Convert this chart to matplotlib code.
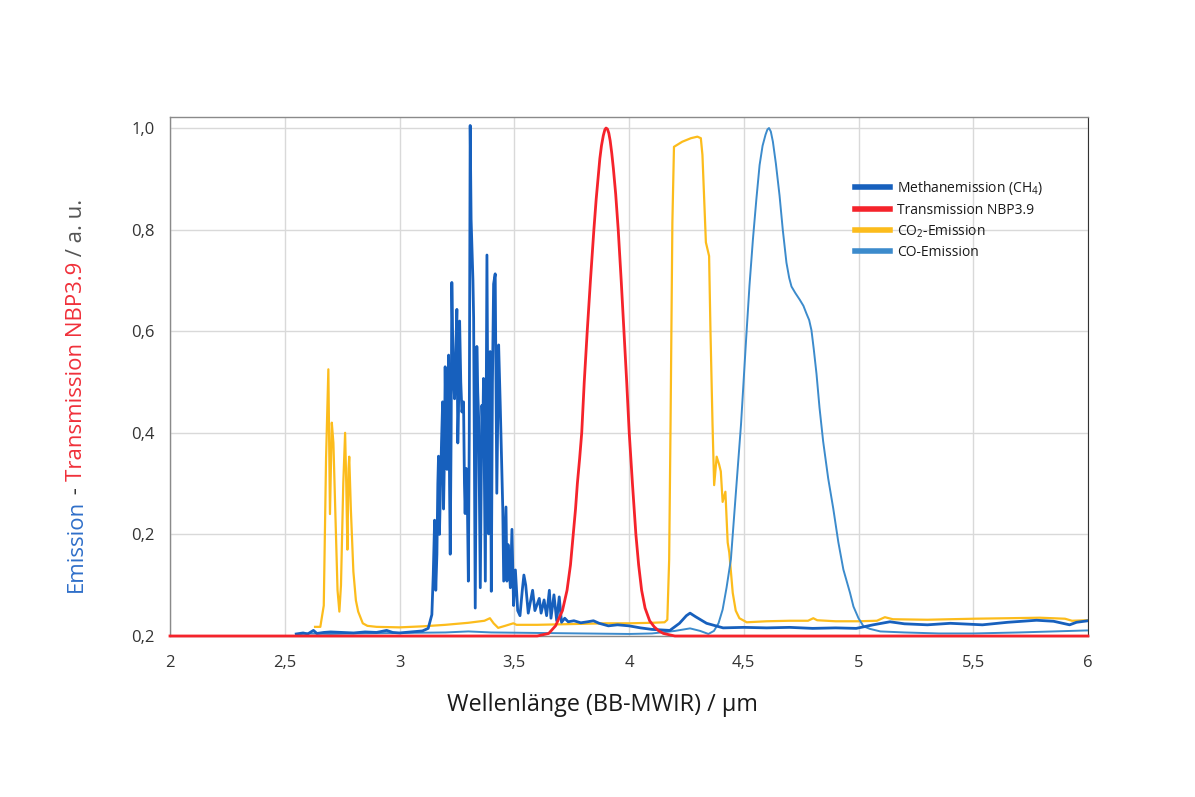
import matplotlib
matplotlib.use("Agg")
import matplotlib.pyplot as plt
from matplotlib.ticker import FixedLocator, FixedFormatter

plt.rcParams['font.family'] = ['Open Sans', 'DejaVu Sans']
plt.rcParams['mathtext.fontset'] = 'custom'
plt.rcParams['mathtext.rm'] = 'Open Sans'
plt.rcParams['mathtext.default'] = 'regular'

# --- data ---
ch4_x = [2.55, 2.58, 2.60, 2.625, 2.64, 2.67, 2.70, 2.75, 2.80, 2.85, 2.90, 2.944, 2.97,
         3.00, 3.05, 3.10, 3.125, 3.141, 3.147, 3.153, 3.158, 3.163, 3.167, 3.170, 3.174,
         3.178, 3.183, 3.188, 3.192, 3.196, 3.199, 3.203, 3.207, 3.211, 3.214, 3.218,
         3.221, 3.225, 3.228, 3.234, 3.240, 3.245, 3.250, 3.254, 3.257, 3.262, 3.267,
         3.272, 3.279, 3.283, 3.286, 3.290, 3.294, 3.300, 3.304, 3.308, 3.312, 3.316,
         3.320, 3.323, 3.330, 3.337, 3.341, 3.345, 3.352, 3.359, 3.363, 3.366, 3.374,
         3.381, 3.388, 3.395, 3.400, 3.405, 3.410, 3.417, 3.424, 3.432, 3.436, 3.439,
         3.446, 3.450, 3.454, 3.460, 3.464, 3.468, 3.473, 3.478, 3.483, 3.490, 3.497,
         3.505, 3.515, 3.525, 3.535, 3.542, 3.550, 3.561, 3.580, 3.590, 3.609, 3.617,
         3.630, 3.641, 3.653, 3.660, 3.673, 3.685, 3.696, 3.706, 3.720, 3.735, 3.760,
         3.790, 3.820, 3.845, 3.870, 3.910, 3.950, 4.000, 4.050, 4.100, 4.178, 4.220,
         4.250, 4.266, 4.290, 4.338, 4.410, 4.500, 4.600, 4.700, 4.800, 4.900, 4.990,
         5.064, 5.137, 5.200, 5.300, 5.400, 5.540, 5.650, 5.776, 5.850, 5.920, 5.950,
         6.000]
ch4_y = [0.004, 0.006, 0.004, 0.011, 0.005, 0.007, 0.008, 0.007, 0.006, 0.008, 0.007, 0.011, 0.007,
         0.006, 0.008, 0.010, 0.015, 0.042, 0.120, 0.228, 0.090, 0.161, 0.300, 0.354, 0.200,
         0.281, 0.380, 0.461, 0.250, 0.361, 0.530, 0.380, 0.328, 0.450, 0.553, 0.300,
         0.161, 0.400, 0.696, 0.520, 0.467, 0.560, 0.643, 0.380, 0.441, 0.620, 0.500,
         0.441, 0.461, 0.300, 0.241, 0.330, 0.328, 0.108, 0.400, 1.005, 0.820, 0.759,
         0.700, 0.626, 0.055, 0.570, 0.480, 0.427, 0.095, 0.454, 0.400, 0.507, 0.108,
         0.750, 0.201, 0.560, 0.088, 0.500, 0.693, 0.713, 0.281, 0.573, 0.500, 0.454,
         0.328, 0.250, 0.108, 0.200, 0.254, 0.108, 0.180, 0.135, 0.095, 0.210, 0.060,
         0.130, 0.050, 0.040, 0.090, 0.120, 0.100, 0.045, 0.090, 0.050, 0.074, 0.045,
         0.071, 0.040, 0.090, 0.035, 0.081, 0.030, 0.077, 0.027, 0.035, 0.028, 0.030,
         0.026, 0.028, 0.030, 0.025, 0.020, 0.022, 0.020, 0.016, 0.013, 0.011, 0.025,
         0.040, 0.045, 0.038, 0.025, 0.016, 0.017, 0.016, 0.017, 0.015, 0.016, 0.015,
         0.022, 0.028, 0.024, 0.022, 0.025, 0.022, 0.027, 0.031, 0.029, 0.022, 0.027,
         0.030]

nbp_x = [2.00, 3.60, 3.65, 3.68, 3.71, 3.73, 3.745, 3.757, 3.767, 3.775, 3.785, 3.794,
         3.805, 3.818, 3.832, 3.847, 3.857, 3.865, 3.873, 3.880, 3.888, 3.895, 3.900,
         3.906, 3.912, 3.918, 3.925, 3.932, 3.942, 3.953, 3.966, 3.978, 3.990, 4.001,
         4.015, 4.030, 4.042, 4.055, 4.070, 4.090, 4.110, 4.130, 4.150, 4.180, 4.200, 6.00]
nbp_y = [0.0, 0.0, 0.005, 0.02, 0.05, 0.09, 0.14, 0.20, 0.25, 0.30, 0.35, 0.40,
         0.50, 0.60, 0.70, 0.80, 0.86, 0.90, 0.94, 0.965, 0.985, 0.997, 1.00,
         0.998, 0.99, 0.975, 0.95, 0.92, 0.87, 0.80, 0.70, 0.60, 0.50, 0.40,
         0.30, 0.20, 0.14, 0.09, 0.055, 0.03, 0.018, 0.01, 0.005, 0.002, 0.0, 0.0]

co2_x = [2.632, 2.655, 2.670, 2.680, 2.690, 2.697, 2.705, 2.712, 2.720, 2.730, 2.738,
         2.745, 2.755, 2.763, 2.768, 2.773, 2.778, 2.781, 2.788, 2.799, 2.810, 2.820,
         2.840, 2.860, 2.900, 3.000, 3.100, 3.200, 3.300, 3.370, 3.394, 3.410, 3.430,
         3.460, 3.496, 3.510, 3.600, 3.700, 3.800, 3.900, 4.000, 4.100, 4.155, 4.167,
         4.175, 4.181, 4.189, 4.196, 4.232, 4.270, 4.298, 4.313, 4.320, 4.335, 4.349,
         4.355, 4.364, 4.371, 4.382, 4.393, 4.400, 4.408, 4.420, 4.430, 4.437, 4.452,
         4.465, 4.481, 4.513, 4.600, 4.700, 4.780, 4.803, 4.820, 4.900, 5.000, 5.080,
         5.115, 5.150, 5.300, 5.500, 5.650, 5.790, 5.900, 5.930, 6.000]
co2_y = [0.018, 0.018, 0.060, 0.350, 0.525, 0.240, 0.420, 0.380, 0.250, 0.090, 0.048,
         0.100, 0.300, 0.400, 0.300, 0.170, 0.330, 0.353, 0.250, 0.127, 0.070, 0.048,
         0.025, 0.020, 0.018, 0.017, 0.019, 0.022, 0.026, 0.030, 0.035, 0.025, 0.016,
         0.020, 0.025, 0.022, 0.022, 0.023, 0.024, 0.025, 0.025, 0.026, 0.027, 0.032,
         0.150, 0.416, 0.814, 0.963, 0.973, 0.980, 0.983, 0.980, 0.947, 0.775, 0.748,
         0.600, 0.416, 0.297, 0.353, 0.337, 0.324, 0.264, 0.284, 0.184, 0.164, 0.085,
         0.050, 0.035, 0.027, 0.029, 0.030, 0.030, 0.035, 0.031, 0.029, 0.029, 0.030,
         0.037, 0.033, 0.032, 0.034, 0.035, 0.036, 0.034, 0.030, 0.031]

co_x = [2.55, 2.60, 2.70, 2.80, 3.00, 3.20, 3.30, 3.40, 3.60, 3.80, 4.00, 4.10, 4.20,
        4.266, 4.310, 4.346, 4.370, 4.390, 4.408, 4.425, 4.444, 4.466, 4.488, 4.510,
        4.525, 4.540, 4.555, 4.569, 4.582, 4.595, 4.603, 4.610, 4.618, 4.627, 4.640,
        4.656, 4.670, 4.686, 4.698, 4.708, 4.725, 4.744, 4.760, 4.773, 4.785, 4.795,
        4.805, 4.817, 4.830, 4.846, 4.868, 4.890, 4.912, 4.934, 4.963, 4.978, 5.000,
        5.022, 5.050, 5.095, 5.200, 5.350, 5.500, 5.700, 5.850, 6.000]
co_y = [0.003, 0.005, 0.004, 0.005, 0.006, 0.007, 0.009, 0.007, 0.006, 0.005, 0.004, 0.005, 0.010,
        0.015, 0.010, 0.004, 0.010, 0.025, 0.052, 0.095, 0.151, 0.284, 0.416, 0.582,
        0.690, 0.781, 0.860, 0.927, 0.965, 0.987, 0.997, 1.000, 0.993, 0.973, 0.930,
        0.867, 0.800, 0.735, 0.705, 0.688, 0.675, 0.662, 0.650, 0.635, 0.622, 0.602,
        0.565, 0.516, 0.450, 0.383, 0.310, 0.251, 0.185, 0.131, 0.085, 0.058, 0.035,
        0.019, 0.014, 0.009, 0.007, 0.005, 0.005, 0.007, 0.009, 0.011]

x_ticks = [2, 2.5, 3, 3.5, 4, 4.5, 5, 5.5, 6]
x_labels = ['2', '2,5', '3', '3,5', '4', '4,5', '5', '5,5', '6']
y_ticks = [0, 0.2, 0.4, 0.6, 0.8, 1.0]
y_labels = ['0,2', '0,2', '0,4', '0,6', '0,8', '1,0']

c_ch4 = '#1760bd'
c_nbp = '#f5232b'
c_co2 = '#fcbc1c'
c_co = '#3c8bcc'

W, H = 1195, 797
fig = plt.figure(figsize=(W / 100, H / 100), dpi=100)
ax = fig.add_axes([170 / W, 1 - 636 / H, 918 / W, 519 / H])

ax.plot(co2_x, co2_y, color=c_co2, lw=1.6, zorder=2)
ax.plot(co_x, co_y, color=c_co, lw=1.4, zorder=3)
ax.plot(ch4_x, ch4_y, color=c_ch4, lw=2.0, zorder=4)
ax.plot(nbp_x, nbp_y, color=c_nbp, lw=2.0, zorder=5, clip_on=False)

ax.set_xlim(2, 6)
ax.set_ylim(0, 1.0217)
ax.xaxis.set_major_locator(FixedLocator(x_ticks))
ax.xaxis.set_major_formatter(FixedFormatter(x_labels))
ax.yaxis.set_major_locator(FixedLocator(y_ticks))
ax.yaxis.set_major_formatter(FixedFormatter(y_labels))
ax.tick_params(length=0, labelsize=12, colors='#333333')
ax.tick_params(axis='x', pad=14)
ax.tick_params(axis='y', pad=11)
ax.grid(True, color='#d9d9d9', lw=1.0, zorder=0)
ax.set_axisbelow(True)
for s in ['left', 'top', 'bottom']:
    ax.spines[s].set_color('#8a8a8a')
    ax.spines[s].set_linewidth(1.0)
ax.spines['right'].set_color('#333333')

fig.text(602 / W, 1 - 705 / H, 'Wellenlänge (BB-MWIR) / µm', ha='center', va='center',
         fontsize=16.8, color='#1a1a1a')

# Legend
handles = [plt.Line2D([], [], color=c_ch4, lw=4),
           plt.Line2D([], [], color=c_nbp, lw=4),
           plt.Line2D([], [], color=c_co2, lw=4),
           plt.Line2D([], [], color=c_co, lw=4)]
labels = ['Methanemission (CH$_4$)', 'Transmission NBP3.9', 'CO$_2$-Emission', 'CO-Emission']
fig.legend(handles, labels, loc='upper left', bbox_to_anchor=(855 / W, 1 - 179 / H),
           frameon=False, fontsize=10, handlelength=2.5, handletextpad=0.55,
           labelspacing=0.4, borderpad=0, borderaxespad=0, labelcolor='#1a1a1a')

# Multi-coloured y label, stacked bottom to top
pieces = [('Emission', '#2f6fc9'), (' - ', '#333333'),
          ('Transmission NBP3.9', '#f0303a'), (' / a. u.', '#555555')]
fig.canvas.draw()
renderer = fig.canvas.get_renderer()
y0 = 1 - 592 / H
for txt, col in pieces:
    t = fig.text(76 / W, y0, txt, rotation=90, ha='center', va='bottom',
                 fontsize=16, color=col)
    bb = t.get_window_extent(renderer=renderer)
    y0 = bb.y1 / H

fig.savefig('out.png', dpi=100)
